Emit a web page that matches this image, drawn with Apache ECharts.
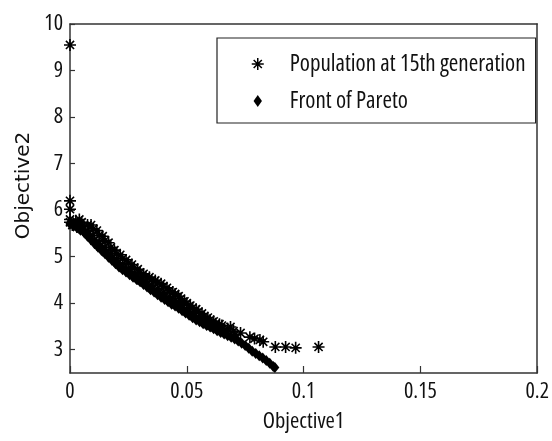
<!DOCTYPE html>
<html>
<head>
<meta charset="utf-8">
<script src="https://cdn.jsdelivr.net/npm/echarts@6/dist/echarts.min.js"></script>
<style>
html,body{margin:0;padding:0;background:#fff;}
#chart{width:552px;height:441px;}
</style>
</head>
<body>
<div id="chart"></div>
<script>
// ---- data ----
const seriesNames = ['Population at 15th generation', 'Front of Pareto'];
const xAxisName = 'Objective1';
const yAxisName = 'Objective2';
const xTicks = [0, 0.05, 0.1, 0.15, 0.2];
const yTicks = [3, 4, 5, 6, 7, 8, 9, 10];

// Pareto front points (lower edge of the cloud)
const frontPoints = [
  [0.0000,5.70],[0.0015,5.66],[0.0030,5.62],[0.0045,5.57],[0.0060,5.52],
  [0.0075,5.44],[0.0090,5.36],[0.0105,5.28],[0.0120,5.20],[0.0135,5.13],
  [0.0150,5.06],[0.0165,4.99],[0.0180,4.92],[0.0195,4.85],[0.0210,4.78],
  [0.0225,4.72],[0.0240,4.67],[0.0255,4.61],[0.0270,4.56],[0.0285,4.51],
  [0.0300,4.46],[0.0315,4.40],[0.0330,4.35],[0.0345,4.29],[0.0360,4.24],
  [0.0375,4.18],[0.0390,4.13],[0.0405,4.08],[0.0420,4.03],[0.0435,3.98],
  [0.0450,3.94],[0.0465,3.89],[0.0480,3.84],[0.0495,3.79],[0.0510,3.74],
  [0.0525,3.69],[0.0540,3.64],[0.0555,3.60],[0.0570,3.56],[0.0585,3.52],
  [0.0600,3.49],[0.0615,3.45],[0.0630,3.41],[0.0645,3.37],[0.0660,3.34],
  [0.0675,3.30],[0.0690,3.27],[0.0705,3.23],[0.0720,3.19],[0.0735,3.14],
  [0.0750,3.09],[0.0765,3.03],[0.0780,2.97],[0.0795,2.92],[0.0810,2.87],
  [0.0825,2.82],[0.0840,2.77],[0.0855,2.71],[0.0870,2.64],[0.0877,2.62]
];

// Population: dense band
const populationBand = [
  [0.0000,5.80],[0.0000,5.74],[0.0010,5.68],[0.0025,5.77],[0.0025,5.70],[0.0030,5.64],
  [0.0050,5.74],[0.0050,5.65],[0.0055,5.58],[0.0075,5.68],[0.0075,5.56],[0.0080,5.48],
  [0.0100,5.60],[0.0098,5.45],[0.0105,5.35],[0.0125,5.46],[0.0125,5.32],[0.0130,5.22],
  [0.0150,5.35],[0.0150,5.20],[0.0155,5.10],[0.0175,5.20],[0.0175,5.07],[0.0180,4.98],
  [0.0200,5.06],[0.0200,4.95],[0.0205,4.87],[0.0225,4.96],[0.0225,4.84],[0.0230,4.76],
  [0.0250,4.86],[0.0250,4.75],[0.0255,4.67],[0.0275,4.76],[0.0275,4.65],[0.0280,4.58],
  [0.0300,4.66],[0.0300,4.56],[0.0305,4.49],[0.0325,4.57],[0.0325,4.47],[0.0330,4.40],
  [0.0350,4.50],[0.0350,4.39],[0.0355,4.31],[0.0375,4.44],[0.0375,4.31],[0.0380,4.22],
  [0.0400,4.36],[0.0400,4.23],[0.0405,4.14],[0.0425,4.27],[0.0425,4.14],[0.0430,4.06],
  [0.0450,4.20],[0.0450,4.07],[0.0455,3.98],[0.0475,4.10],[0.0475,3.98],[0.0480,3.89],
  [0.0500,4.00],[0.0500,3.88],[0.0505,3.81],[0.0525,3.90],[0.0525,3.80],[0.0530,3.73],
  [0.0550,3.82],[0.0550,3.71],[0.0555,3.65],[0.0575,3.72],[0.0575,3.63],[0.0580,3.58],
  [0.0600,3.64],[0.0600,3.56],[0.0605,3.52],[0.0623,3.56],[0.0625,3.48],[0.0650,3.52],
  [0.0650,3.44],[0.0675,3.45],[0.0675,3.38],[0.0687,3.49],[0.0700,3.40],[0.0705,3.32]
];

// Population: upper fringe of the band
const populationFringe = [
  [0.0040,5.80],[0.0090,5.68],[0.0115,5.56],[0.0140,5.44],[0.0165,5.30],[0.0190,5.14],
  [0.0215,5.04],[0.0240,4.93],[0.0265,4.83],[0.0290,4.73],[0.0315,4.63],[0.0340,4.56],
  [0.0365,4.49],[0.0390,4.42],[0.0415,4.33],[0.0440,4.24],[0.0465,4.15],[0.0490,4.04],
  [0.0515,3.95],[0.0540,3.87],[0.0565,3.78],[0.0590,3.69],[0.0615,3.61],[0.0640,3.55]
];

// Population: sparse tail and outliers
const populationTail = [
  [0.0730,3.36],[0.0770,3.27],[0.0790,3.24],[0.0813,3.21],[0.0827,3.17],
  [0.0879,3.06],[0.0923,3.06],[0.0966,3.04],[0.1064,3.06]
];
const populationOutliers = [[0.0000,9.55],[0.0000,6.20],[0.0000,6.02]];

// ---- chart ----
const FONT = '"Open Sans", "Liberation Sans", sans-serif';
const STRETCH = 'condensed'; // goes into the canvas font shorthand
const ASTERISK = 'path://M5,0L5,10M0,5L10,5M1.6,1.6L8.4,8.4M1.6,8.4L8.4,1.6';
const DOT = 'path://M0,-1L0.7,0L0,1L-0.7,0Z';

function txt(size, extra) {
  return Object.assign({fontFamily: FONT, fontWeight: STRETCH, fontSize: size, color: '#111'}, extra || {});
}

const chart = echarts.init(document.getElementById('chart'), null, {renderer: 'canvas'});
chart.setOption({
  animation: false,
  backgroundColor: '#fff',
  grid: {left: 70, right: 12, top: 24, bottom: 68, containLabel: false},
  xAxis: [{
    type: 'value', min: xTicks[0], max: xTicks[xTicks.length - 1], interval: 0.05,
    name: xAxisName, nameLocation: 'middle', nameGap: 37,
    nameTextStyle: txt(22.5),
    axisLine: {show: true, onZero: false, lineStyle: {color: '#333', width: 1.5}},
    axisTick: {show: true, inside: true, length: 7, lineStyle: {color: '#333', width: 1.2}},
    axisLabel: txt(22, {margin: 8, formatter: v => String(v)}),
    splitLine: {show: false}
  }, {
    type: 'value', position: 'top', min: 0, max: 0.2,
    axisLine: {show: true, onZero: false, lineStyle: {color: '#333', width: 1.5}},
    axisTick: {show: false}, axisLabel: {show: false}, splitLine: {show: false}
  }],
  yAxis: [{
    type: 'value', min: 2.5, max: yTicks[yTicks.length - 1], splitNumber: 8,
    name: yAxisName, nameLocation: 'middle', nameGap: 36,
    nameTextStyle: {fontFamily: '"DejaVu Sans", sans-serif', fontSize: 20, color: '#111',
      padding: [0, 0, 0, 26]},
    axisLine: {show: true, onZero: false, lineStyle: {color: '#333', width: 1.5}},
    axisTick: {show: true, inside: true, length: 5, lineStyle: {color: '#333', width: 1.2}},
    axisLabel: txt(22, {margin: 7, showMinLabel: false,
      formatter: v => (yTicks.indexOf(v) >= 0 ? String(v) : '')}),
    splitLine: {show: false}
  }, {
    type: 'value', position: 'right', min: 2.5, max: 10,
    axisLine: {show: true, onZero: false, lineStyle: {color: '#333', width: 1.5}},
    axisTick: {show: false}, axisLabel: {show: false}, splitLine: {show: false}
  }],
  legend: {
    orient: 'vertical', left: 217, top: 38,
    padding: [14, 10, 10, 34],
    itemWidth: 54, itemHeight: 12, itemGap: 13,
    borderColor: '#222', borderWidth: 1.2, backgroundColor: '#fff',
    textStyle: txt(23, {lineHeight: 24}),
    data: [
      {name: seriesNames[0], icon: ASTERISK,
       itemStyle: {color: 'rgba(0,0,0,0)', borderColor: '#000', borderWidth: 1.5}},
      {name: seriesNames[1], icon: DOT, itemStyle: {color: '#000', borderWidth: 0}}
    ]
  },
  series: [{
    name: seriesNames[0], type: 'scatter',
    data: populationBand.concat(populationFringe, populationTail, populationOutliers),
    symbol: ASTERISK, symbolSize: 12, symbolKeepAspect: true,
    itemStyle: {color: 'rgba(0,0,0,0)', borderColor: '#000', borderWidth: 1.6, opacity: 1},
    emphasis: {disabled: true}, z: 2
  }, {
    name: seriesNames[1], type: 'scatter',
    data: frontPoints,
    symbol: DOT, symbolSize: [9, 11], symbolKeepAspect: false,
    itemStyle: {color: '#000', opacity: 1},
    emphasis: {disabled: true}, z: 3
  }]
});
</script>
</body>
</html>
